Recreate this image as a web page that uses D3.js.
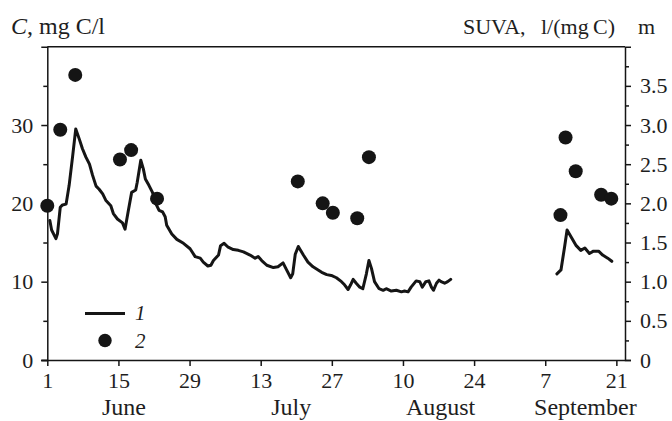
<!DOCTYPE html>
<html><head><meta charset="utf-8">
<script src="https://cdn.jsdelivr.net/npm/d3@7"></script>
<style>
body{margin:0;background:#fff}
</style>
</head><body><svg id="c" width="672" height="421"></svg>
<script>
// Day index: 1 = June 1 (day 113 = September 21)
const lineDays = [1.5,1.85,2.7,3.0,3.55,4.0,4.7,5.3,6.0,6.6,7.3,7.9,8.6,9.3,9.9,10.6,11.2,11.9,12.5,13.5,14.0,14.8,15.8,16.3,16.9,17.6,18.4,18.7,19.4,19.9,20.3,21.0,21.7,22.4,23.0,23.7,24.2,24.5,25.5,26.5,27.8,29.1,30.1,31.1,31.7,32.6,33.2,33.7,34.7,35.1,35.8,36.6,37.6,38.6,39.6,40.9,41.9,42.5,43.2,44.2,45.5,46.4,47.4,48.1,48.9,49.3,49.8,50.4,51.4,52.3,53.3,54.3,55.0,56.0,56.9,57.9,58.9,59.5,60.2,60.7,61.2,61.8,62.5,63.1,63.8,64.3,64.8,65.4,66.3,67.1,67.7,68.7,69.7,70.7,71.3,72.0,72.6,73.6,74.3,74.8,75.5,76.1,76.6,77.0,77.6,78.1,78.5,79.2,79.8,80.4,
  90,
  101.3,102.1,102.8,103.3,104.1,105.1,106.0,106.8,107.7,108.5,109.5,110.3,111.3,112.1];
const lineValues = [17.8,16.6,15.5,16.1,19.5,19.8,19.9,22.3,26.1,29.5,28.2,27.0,25.9,25.0,23.6,22.2,21.8,21.2,20.4,19.7,18.7,18.0,17.5,16.7,18.9,21.4,21.7,22.7,25.5,24.4,23.1,22.3,21.4,19.9,19.1,18.9,18.3,17.2,16.1,15.4,14.9,14.2,13.2,13.0,12.5,12.0,12.1,12.7,13.4,14.6,14.9,14.4,14.1,14.0,13.8,13.4,13.0,13.2,12.7,12.1,11.8,11.9,12.4,11.5,10.5,11.0,13.5,14.5,13.4,12.5,11.9,11.5,11.2,10.9,10.8,10.5,10.0,9.6,9.0,9.6,10.3,9.8,9.3,9.1,11.0,12.7,11.7,10.0,9.1,8.9,9.1,8.8,8.9,8.7,8.8,8.7,9.3,10.1,10.0,9.3,10.0,10.1,9.3,8.9,9.8,10.2,10.0,9.8,10.0,10.3,
  null,
  11.0,11.5,14.4,16.6,15.7,14.6,14.0,14.3,13.6,13.9,13.9,13.4,13.0,12.6];
const dotDays = [1.0,3.55,6.5,15.3,17.5,22.6,50.3,55.2,57.2,62.0,64.3,102.0,103.0,105.0,110.0,112.0];
const suvaValues = [1.97,2.94,3.64,2.56,2.68,2.06,2.28,2.00,1.88,1.81,2.59,1.85,2.84,2.41,2.11,2.06];
const xTickDays = [1,15,29,43,57,71,85,99,113];
const xTickLabels = ["1","15","29","13","27","10","24","7","21"];
const monthNames = ["June","July","August","September"];
const monthDays = [16.1,49.0,78.4,106.9];
const cTicks = [0,10,20,30];
const cMinorTicks = [5,15,25,35];
const suvaTicks = [0,0.5,1.0,1.5,2.0,2.5,3.0,3.5];
const suvaMinorTicks = [0.25,0.75,1.25,1.75,2.25,2.75,3.25,3.75];
const legendLabels = ["1","2"];

const FONT = "'Liberation Serif', 'Times New Roman', serif";
const svg = d3.select("#c");
const L = 47.3, R = 625, T = 46.7, B = 360;
const x = d3.scaleLinear().domain([1,114.7]).range([L,R]);
const yC = d3.scaleLinear().domain([0,40]).range([B,T]);
const yS = d3.scaleLinear().domain([0,4]).range([B,T]);
const ink = "#151515";
const txt = "#1e1e1e";

function styleAxis(g, fs){
  g.attr("font-family", FONT).attr("font-size", fs);
  g.selectAll("path,line").attr("stroke", ink).attr("stroke-width", 1.5);
  g.selectAll("text").attr("fill", txt);
}

// left axis
svg.append("g").attr("transform",`translate(${L},0)`)
  .call(d3.axisLeft(yC).tickValues(cTicks).tickSize(6).tickPadding(8).tickFormat(d3.format("d")))
  .call(g=>styleAxis(g,22));
svg.append("g").attr("transform",`translate(${L},0)`)
  .call(d3.axisLeft(yC).tickValues(cMinorTicks).tickSize(4).tickFormat(""))
  .call(g=>{styleAxis(g,22); g.select(".domain").remove();});

// right axis
svg.append("g").attr("transform",`translate(${R},0)`)
  .call(d3.axisRight(yS).tickValues(suvaTicks).tickSize(6).tickPadding(9).tickFormat(d=> d===0?"0":d3.format(".1f")(d)))
  .call(g=>styleAxis(g,22));
svg.append("g").attr("transform",`translate(${R},0)`)
  .call(d3.axisRight(yS).tickValues(suvaMinorTicks).tickSize(4).tickFormat(""))
  .call(g=>{styleAxis(g,22); g.select(".domain").remove();});

// bottom axis
svg.append("g").attr("transform",`translate(0,${B})`)
  .call(d3.axisBottom(x).tickValues(xTickDays).tickSize(6).tickPadding(6).tickFormat((d,i)=>xTickLabels[i]))
  .call(g=>{styleAxis(g,22); g.select(".domain").attr("d",`M${L-6},0.5H${R}`);});

// top frame
svg.append("line").attr("x1",L).attr("x2",R).attr("y1",T).attr("y2",T)
  .attr("stroke",ink).attr("stroke-width",1.6);

// month labels
svg.append("g").attr("font-family",FONT).selectAll("text").data(monthNames).join("text")
  .attr("x",(d,i)=>x(monthDays[i])).attr("y",415).attr("fill",txt)
  .attr("text-anchor","middle").attr("font-size",24).text(d=>d);

// axis titles
const t1 = svg.append("text").attr("x",11).attr("y",34).attr("font-size",24)
  .attr("font-family",FONT).attr("fill",txt);
t1.append("tspan").attr("font-style","italic").text("C");
t1.append("tspan").text(", mg C/l");
const t2 = svg.append("text").attr("y",34).attr("font-family",FONT).attr("fill",txt).attr("font-size",22);
t2.append("tspan").attr("x",463).text("SUVA,");
t2.append("tspan").attr("x",541).text("l/(mg\u2009C)");
t2.append("tspan").attr("x",638).text("m");

// line
const pts = lineDays.map((d,i)=>({d, v: lineValues[i]}));
svg.append("path").datum(pts)
  .attr("d", d3.line().defined(p=>p.v!=null).x(p=>x(p.d)).y(p=>yC(p.v)))
  .attr("fill","none").attr("stroke",ink).attr("stroke-width",3)
  .attr("stroke-linejoin","round").attr("stroke-linecap","round");

// dots
svg.append("g").selectAll("circle").data(dotDays).join("circle")
  .attr("cx",d=>x(d)).attr("cy",(d,i)=>yS(suvaValues[i])).attr("r",7).attr("fill",ink);

// legend
const lg = svg.append("g");
lg.append("line").attr("x1",85).attr("x2",125).attr("y1",313.5).attr("y2",313.5)
  .attr("stroke",ink).attr("stroke-width",3);
lg.append("circle").attr("cx",105).attr("cy",340.5).attr("r",6.7).attr("fill",ink);
lg.selectAll("text").data(legendLabels).join("text")
  .attr("x",135).attr("y",(d,i)=>i===0?320:348).attr("font-size",21)
  .attr("font-family",FONT).attr("fill",txt)
  .attr("font-style","italic").text(d=>d);
</script></body></html>
